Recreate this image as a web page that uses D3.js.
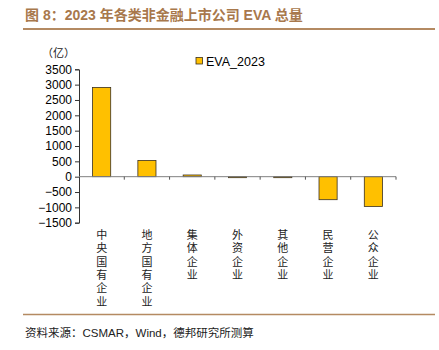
<!DOCTYPE html>
<html>
<head>
<meta charset="utf-8">
<script src="https://cdn.jsdelivr.net/npm/d3@7"></script>
<style>
body { margin: 0; background: #fff; }
</style>
</head>
<body>
<script>
// Data
const categories = ["中央国有企业", "地方国有企业", "集体企业", "外资企业", "其他企业", "民营企业", "公众企业"];
const values = [2910, 530, 55, -10, -30, -750, -970];
const yTicks = [3500, 3000, 2500, 2000, 1500, 1000, 500, 0, -500, -1000, -1500];
const seriesName = "EVA_2023";

const W = 439, H = 350;
const svg = d3.select("body").append("svg")
    .attr("width", W)
    .attr("height", H);

const brown = "#a8784c";
const cjk = "'Noto Sans CJK SC', sans-serif";
const sans = "'Liberation Sans', Arial, sans-serif";

// Title
svg.append("text")
    .attr("x", 25)
    .attr("y", 20)
    .attr("fill", brown)
    .attr("font-size", "14px")
    .attr("font-weight", "bold")
    .attr("font-family", "'Liberation Sans', 'Noto Sans CJK SC', sans-serif")
    .text("图 8：2023 年各类非金融上市公司 EVA 总量");

svg.append("line")
    .attr("x1", 23).attr("x2", 435)
    .attr("y1", 29).attr("y2", 29)
    .attr("stroke", "#b48a62")
    .attr("stroke-width", 2);

// Scales
const x = d3.scaleBand()
    .domain(categories)
    .range([79, 396])
    .paddingInner(0.6)
    .paddingOuter(0.3);

const xEdge = d3.scaleLinear()
    .domain([0, categories.length])
    .range([79, 396]);

const y = d3.scaleLinear()
    .domain([-1500, 3500])
    .range([222.7, 69.3]);

// Unit
svg.append("text")
    .attr("x", 42)
    .attr("y", 57)
    .attr("font-size", "11px")
    .attr("font-family", cjk)
    .attr("fill", "#222")
    .text("（亿）");

// Y axis
const yAxis = svg.append("g")
    .attr("transform", "translate(79,0)")
    .call(d3.axisLeft(y).tickValues(yTicks).tickFormat(d3.format("d")).tickSize(4).tickPadding(3));
yAxis.select(".domain").attr("stroke", "#333");
yAxis.selectAll(".tick line").attr("stroke", "#333");
yAxis.selectAll("text")
    .attr("font-size", "12px")
    .attr("font-family", sans)
    .attr("fill", "#000");

// Bars
svg.selectAll("rect.bar")
    .data(values)
    .enter().append("rect")
    .attr("class", "bar")
    .attr("x", (d, i) => x(categories[i]))
    .attr("width", x.bandwidth())
    .attr("y", d => y(Math.max(0, d)))
    .attr("height", d => Math.max(1, Math.abs(y(d) - y(0))))
    .attr("fill", "#ffc000")
    .attr("stroke", "#3a3020")
    .attr("stroke-width", 0.8);

// X axis at zero
const xg = svg.append("g");
xg.append("line")
    .attr("x1", 79).attr("x2", 396)
    .attr("y1", y(0)).attr("y2", y(0))
    .attr("stroke", "#808080")
    .attr("stroke-width", 1);
xg.selectAll("line.tick")
    .data(d3.range(1, categories.length + 1))
    .enter().append("line")
    .attr("class", "tick")
    .attr("x1", d => xEdge(d)).attr("x2", d => xEdge(d))
    .attr("y1", y(0)).attr("y2", y(0) + 3)
    .attr("stroke", "#555");

// Category labels: one character per line, each set vertically
categories.forEach(c => {
    const cx = x(c) + x.bandwidth() / 2;
    c.split("").forEach((ch, j) => {
        svg.append("text")
            .attr("x", cx)
            .attr("y", 229.5 + j * 13.3)
            .style("writing-mode", "vertical-rl")
            .attr("font-size", "11px")
            .attr("font-family", cjk)
            .attr("fill", "#222")
            .text(ch);
    });
});

// Legend
svg.append("rect")
    .attr("x", 196).attr("y", 57.5)
    .attr("width", 6.5).attr("height", 6.5)
    .attr("fill", "#ffc000")
    .attr("stroke", "#3a3020")
    .attr("stroke-width", 0.8);
svg.append("text")
    .attr("x", 206)
    .attr("y", 65.5)
    .attr("font-size", "12.5px")
    .attr("font-family", sans)
    .attr("fill", "#000")
    .text(seriesName);

// Footer
svg.append("line")
    .attr("x1", 23).attr("x2", 435)
    .attr("y1", 314.5).attr("y2", 314.5)
    .attr("stroke", "#b48a62")
    .attr("stroke-width", 1.5);

svg.append("text")
    .attr("x", 25)
    .attr("y", 337)
    .attr("font-size", "11.5px")
    .attr("font-family", "'Liberation Sans', 'Noto Sans CJK SC', sans-serif")
    .attr("fill", "#222")
    .text("资料来源：CSMAR，Wind，德邦研究所测算");
</script>
</body>
</html>
